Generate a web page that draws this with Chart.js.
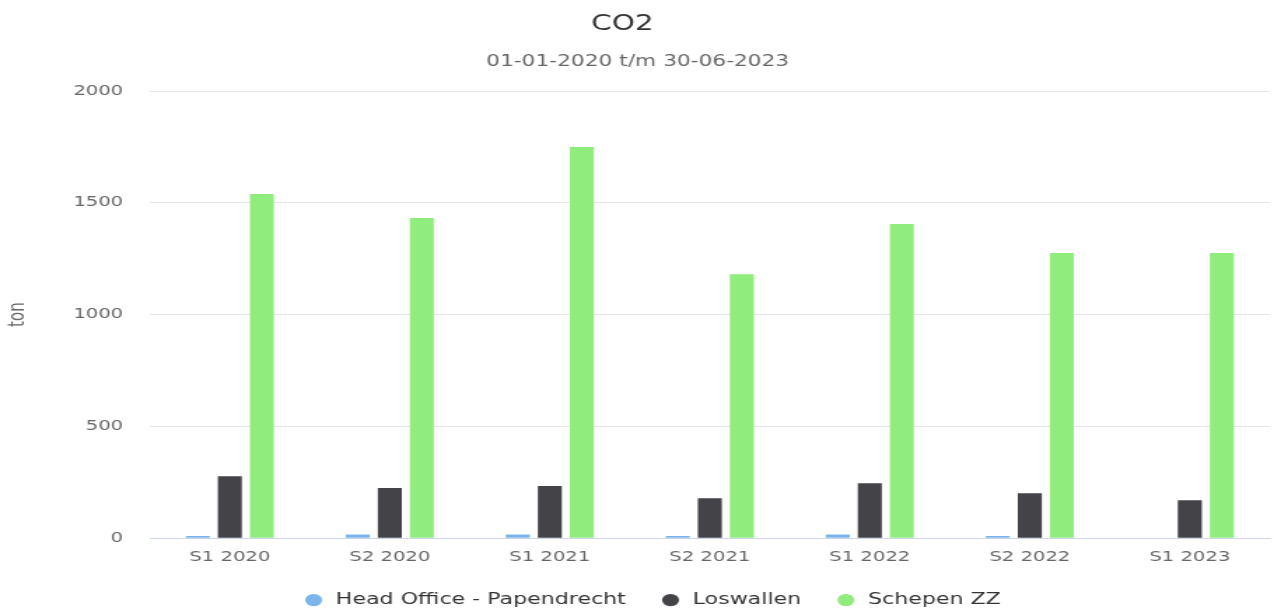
<!DOCTYPE html>
<html>
<head>
<meta charset="utf-8">
<script src="https://cdn.jsdelivr.net/npm/chart.js@4"></script>
<style>
  html, body { margin: 0; background: #fff; overflow: hidden; }
  /* the reference is drawn wide: render narrow and stretch horizontally */
  #wrap { width: 910px; height: 618px; transform: scaleX(1.4); transform-origin: 0 0; }
</style>
</head>
<body>
<div id="wrap"><canvas id="co2Chart"></canvas></div>
<script>
// Chart data
const periods = ['S1 2020', 'S2 2020', 'S1 2021', 'S2 2021', 'S1 2022', 'S2 2022', 'S1 2023'];
const headOffice = [10, 17, 17, 10, 17, 10, 0];
const loswallen = [277, 224, 233, 179, 246, 201, 170];
const schepen = [1539, 1432, 1749, 1181, 1405, 1275, 1275];
const yTicks = [0, 500, 1000, 1500, 2000];

const FONT = 'DejaVu Sans';

// Build a dataset with shared bar styling
function makeDataset(label, data, color) {
    return {
        label: label,
        data: data,
        backgroundColor: color,
        borderWidth: 0,
        categoryPercentage: 0.6,
        barPercentage: 0.75
    };
}

// Small nudge of the title and legend boxes, like the original layout
const nudgeBoxes = {
    id: 'nudgeBoxes',
    afterLayout(chart) {
        if (chart.titleBlock) {
            chart.titleBlock.left -= 11;
            chart.titleBlock.right -= 11;
        }
        if (chart.legend) {
            chart.legend.left += 10;
            chart.legend.right += 10;
        }
    }
};

const ctx = document.getElementById('co2Chart').getContext('2d');

new Chart(ctx, {
    type: 'bar',
    data: {
        labels: periods,
        datasets: [
            makeDataset('Head Office - Papendrecht', headOffice, '#7cb5ec'),
            makeDataset('Loswallen', loswallen, '#434348'),
            makeDataset('Schepen ZZ', schepen, '#90ed7d')
        ]
    },
    plugins: [nudgeBoxes],
    options: {
        responsive: true,
        maintainAspectRatio: false,
        animation: false,
        layout: {
            padding: { left: 4, right: 3, top: 8, bottom: 0 }
        },
        plugins: {
            title: {
                display: true,
                text: 'CO2',
                color: '#333333',
                font: { family: FONT, size: 21, weight: 'normal' },
                padding: { top: 4, bottom: 15.5 }
            },
            subtitle: {
                display: true,
                text: '01-01-2020 t/m 30-06-2023',
                color: '#666666',
                font: { family: FONT, size: 15.5, weight: 'normal' },
                padding: { top: 0, bottom: 19.7 }
            },
            legend: {
                position: 'bottom',
                labels: {
                    usePointStyle: true,
                    pointStyle: 'circle',
                    boxWidth: 15.8,
                    boxHeight: 8.6,
                    padding: 24,
                    color: '#333333',
                    font: { family: FONT, size: 15.8 }
                }
            },
            tooltip: { enabled: false }
        },
        scales: {
            x: {
                grid: { display: false, drawTicks: false },
                border: { color: '#ccd6eb', width: 1 },
                ticks: {
                    color: '#666666',
                    padding: 10.6,
                    font: { family: FONT, size: 14 }
                },
                // trim the empty space below the axis labels
                afterFit: scale => { scale.height = 30; }
            },
            y: {
                min: 0,
                max: 2000,
                afterBuildTicks: axis => {
                    axis.ticks = yTicks.map(v => ({ value: v }));
                },
                grid: { color: '#e6e6e6', drawTicks: false },
                border: { display: false },
                ticks: {
                    color: '#666666',
                    padding: 19,
                    font: { family: FONT, size: 14 },
                    callback: value => String(value)
                },
                title: {
                    display: true,
                    text: 'ton',
                    color: '#666666',
                    font: { family: FONT, size: 15 },
                    padding: { top: 0, bottom: 11.4 }
                }
            }
        }
    }
});
</script>
</body>
</html>
